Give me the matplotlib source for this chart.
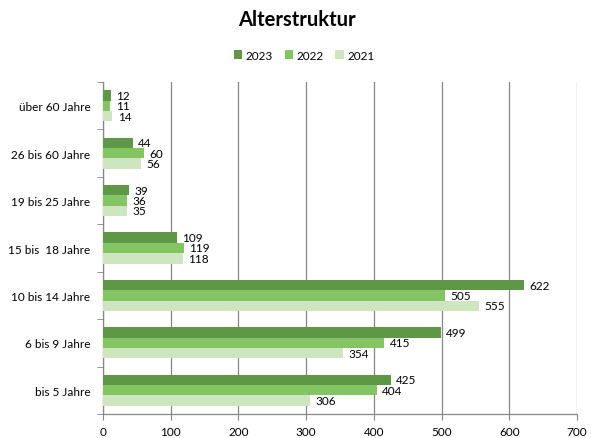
import matplotlib
matplotlib.use("Agg")
import matplotlib.pyplot as plt
import numpy as np

plt.rcParams['font.family'] = ['Lato', 'DejaVu Sans']

categories = ["bis 5 Jahre", "6 bis 9 Jahre", "10 bis 14 Jahre", "15 bis  18 Jahre",
              "19 bis 25 Jahre", "26 bis 60 Jahre", "über 60 Jahre"]
series_names = ["2023", "2022", "2021"]
v2023 = [425, 499, 622, 109, 39, 44, 12]
v2022 = [404, 415, 505, 119, 36, 60, 11]
v2021 = [306, 354, 555, 118, 35, 56, 14]
colors = ["#5E9745", "#84C563", "#CDE6BF"]
xticks = [0, 100, 200, 300, 400, 500, 600, 700]

fig = plt.figure(figsize=(5.91, 4.39), dpi=100)
ax = fig.add_axes([103/591, 1 - 415/439, (577-103)/591, (415-83)/439])

y = np.arange(len(categories))
h = 0.218
offsets = [h, 0, -h]
for vals, name, col, off in zip([v2023, v2022, v2021], series_names, colors, offsets):
    ax.barh(y + off, vals, height=h, color=col, label=name, zorder=3)
    for yy, v in zip(y + off, vals):
        ax.text(v + 8, yy, str(v), va='center', ha='left', fontsize=8.5, color='black', zorder=4)

ax.set_xlim(0, 700)
ax.set_ylim(-0.5, len(categories) - 0.5)
ax.set_xticks(xticks)
ax.set_xticklabels([str(t) for t in xticks], fontsize=8.5)
ax.set_yticks(y)
ax.set_yticklabels(categories, fontsize=8.5)
ax.set_yticks(np.arange(-0.5, len(categories), 1), minor=True)
ax.tick_params(axis='y', which='major', length=0, pad=9)
ax.tick_params(axis='y', which='minor', length=4, color='#868686', direction='out')
ax.tick_params(axis='x', length=4, color='#868686', direction='out', pad=5)
ax.grid(axis='x', color='#868686', linewidth=0.9, zorder=0)
for s in ['top', 'right']:
    ax.spines[s].set_visible(False)
for s in ['left', 'bottom']:
    ax.spines[s].set_color('#868686')
    ax.spines[s].set_linewidth(0.9)

fig.text(297/591, 1 - 20/439, "Alterstruktur", ha='center', va='center', fontsize=14.5, fontweight='bold')
fig.legend(loc='center', bbox_to_anchor=(304/591, 1 - 56/439), ncol=3, frameon=False, fontsize=8.5,
           handlelength=0.7, handleheight=0.7, handletextpad=0.3, columnspacing=1.0)

fig.savefig("out.png", dpi=100)
